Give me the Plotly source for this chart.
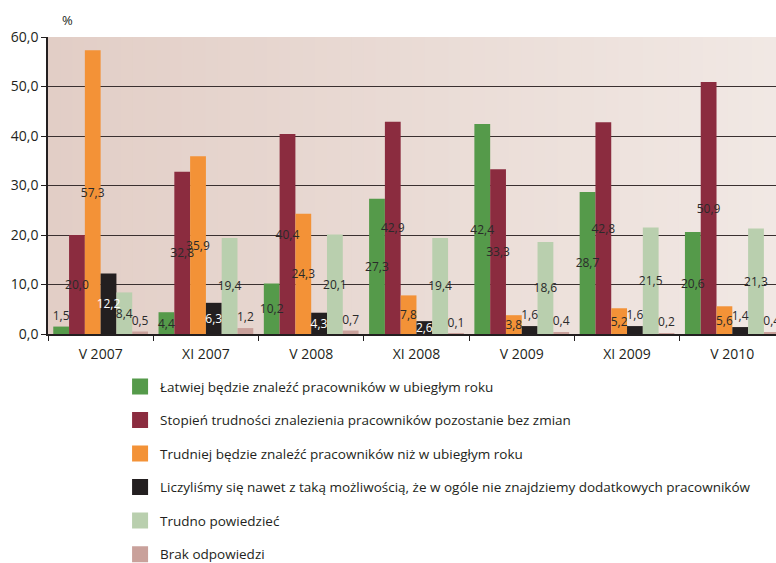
import plotly.graph_objects as go

categories = ["V 2007", "XI 2007", "V 2008", "XI 2008", "V 2009", "XI 2009", "V 2010"]

latwiej = [1.5, 4.4, 10.2, 27.3, 42.4, 28.7, 20.6]
stopien = [20.0, 32.8, 40.4, 42.9, 33.3, 42.8, 50.9]
trudniej = [57.3, 35.9, 24.3, 7.8, 3.8, 5.2, 5.6]
liczylismy = [12.2, 6.3, 4.3, 2.6, 1.6, 1.6, 1.4]
trudno = [8.4, 19.4, 20.1, 19.4, 18.6, 21.5, 21.3]
brak = [0.5, 1.2, 0.7, 0.1, 0.4, 0.2, 0.4]

series_names = [
    "Łatwiej będzie znaleźć pracowników w ubiegłym roku",
    "Stopień trudności znalezienia pracowników pozostanie bez zmian",
    "Trudniej będzie znaleźć pracowników niż w ubiegłym roku",
    "Liczyliśmy się nawet z taką możliwością, że w ogóle nie znajdziemy dodatkowych pracowników",
    "Trudno powiedzieć",
    "Brak odpowiedzi",
]
series_values = [latwiej, stopien, trudniej, liczylismy, trudno, brak]
colors = ["#559A4A", "#8B2C3F", "#F39237", "#231F20", "#B9CFAE", "#C9A19B"]
inside_text_colors = ["#2a2a2a", "#2a2a2a", "#2a2a2a", "#ffffff", "#2a2a2a", "#2a2a2a"]

FONT = "Open Sans, sans-serif"

fig = go.Figure()

# coloured bars
for i, (name, vals, col) in enumerate(zip(series_names, series_values, colors)):
    fig.add_trace(go.Bar(
        x=categories, y=vals, name=name, marker=dict(color=col, line=dict(width=0)),
        offsetgroup=str(i), showlegend=False, legendgroup=f"g{i}",
        hoverinfo="x+y+name",
    ))

# value labels drawn on top of every bar (transparent bars sharing offset groups)
for i, (name, vals) in enumerate(zip(series_names, series_values)):
    texts = [f"{v:.1f}".replace(".", ",") for v in vals]
    positions = ["inside" if v >= 2 else "outside" for v in vals]
    fig.add_trace(go.Bar(
        x=categories, y=vals, name=name, marker=dict(color="rgba(0,0,0,0)", line=dict(width=0)),
        offsetgroup=str(i), text=texts, textposition=positions,
        insidetextanchor="middle", textangle=0,
        insidetextfont=dict(color=inside_text_colors[i], size=12, family=FONT),
        outsidetextfont=dict(color="#2a2a2a", size=12, family=FONT),
        constraintext="none", cliponaxis=False, showlegend=False,
        legendgroup=f"g{i}", hoverinfo="skip",
    ))

# legend entries
for i, (name, col) in enumerate(zip(series_names, colors)):
    fig.add_trace(go.Scatter(
        x=[None], y=[None], mode="markers", name=name, legendgroup=f"g{i}",
        marker=dict(symbol="square", size=16, color=col), showlegend=True,
    ))

# background gradient strips (decoration)
shapes = []
n = 60
c0 = (226, 206, 198)
c1 = (241, 232, 228)
for k in range(n):
    t = k / (n - 1)
    c = tuple(round(a + (b - a) * t) for a, b in zip(c0, c1))
    shapes.append(dict(type="rect", xref="paper", yref="paper", x0=k / n, x1=(k + 1) / n + 0.002,
                       y0=0, y1=1, fillcolor=f"rgb{c}", line=dict(width=0), layer="below"))

fig.update_layout(
    width=776, height=563,
    margin=dict(l=48, r=0, t=37, b=229, autoexpand=False),
    paper_bgcolor="white", plot_bgcolor="rgba(0,0,0,0)",
    barmode="group", bargap=0.1, bargroupgap=0,
    separators=",.",
    font=dict(family=FONT, size=13, color="#231F20"),
    uniformtext=dict(minsize=12, mode="show"),
    shapes=shapes,
    showlegend=True,
    legend=dict(x=0.099, y=-0.125, xanchor="left", yanchor="top", orientation="v",
                font=dict(size=13.5, color="#231F20", family=FONT),
                tracegroupgap=13, bgcolor="rgba(0,0,0,0)", itemclick=False),
    annotations=[dict(text="%", xref="paper", yref="paper", x=0.027, y=1.02,
                      xanchor="center", yanchor="bottom", showarrow=False,
                      font=dict(size=13, family=FONT, color="#231F20"))],
)

fig.update_yaxes(range=[0, 60], dtick=10, tickformat=".1f", showgrid=True,
                 gridcolor="#3a3030", gridwidth=1.4, showline=True, linecolor="#231F20",
                 linewidth=1.5, ticks="outside", ticklen=5, tickcolor="#231F20",
                 tickfont=dict(size=14, family=FONT), zeroline=False)
fig.update_xaxes(range=[-0.5, 6.415], showline=True, linecolor="#231F20", linewidth=1.5,
                 ticks="outside", ticklen=5, tickcolor="#231F20", tickson="boundaries",
                 ticklabelstandoff=6,
                 tickfont=dict(size=14, family=FONT), showgrid=False)

fig.write_html("out.html", config={"displayModeBar": False},
               post_script="document.body.style.margin='0';")
